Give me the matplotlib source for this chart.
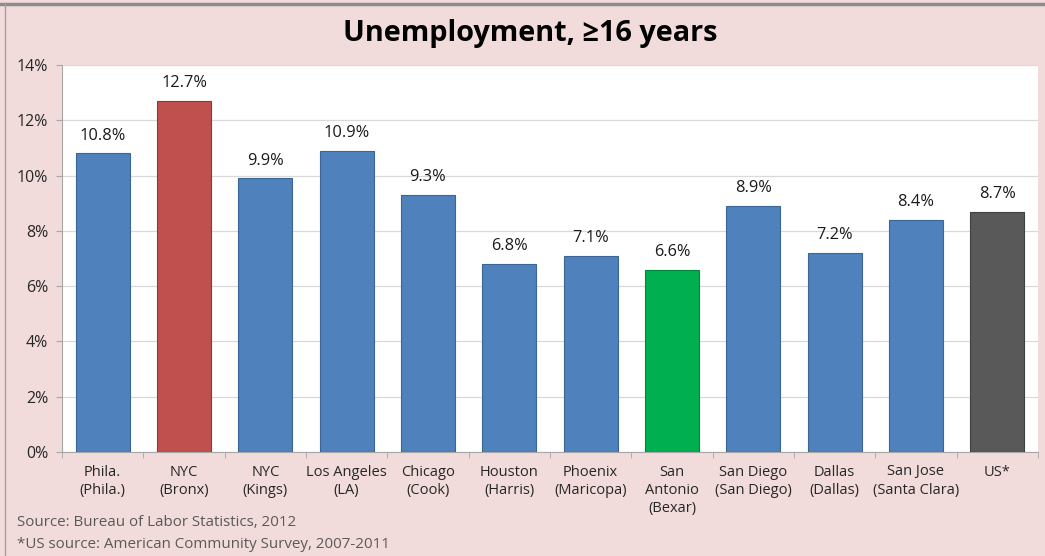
import numpy as np
import matplotlib.pyplot as plt
from matplotlib.ticker import FuncFormatter

plt.rcParams['font.family'] = ['Open Sans', 'DejaVu Sans']

places = ["Phila.\n(Phila.)", "NYC\n(Bronx)", "NYC\n(Kings)", "Los Angeles\n(LA)",
          "Chicago\n(Cook)", "Houston\n(Harris)", "Phoenix\n(Maricopa)",
          "San\nAntonio\n(Bexar)", "San Diego\n(San Diego)", "Dallas\n(Dallas)",
          "San Jose\n(Santa Clara)", "US*"]
rates = [10.8, 12.7, 9.9, 10.9, 9.3, 6.8, 7.1, 6.6, 8.9, 7.2, 8.4, 8.7]
bar_colors = ["#4F81BD", "#C0504D", "#4F81BD", "#4F81BD", "#4F81BD", "#4F81BD",
              "#4F81BD", "#00B050", "#4F81BD", "#4F81BD", "#4F81BD", "#595959"]
edge_colors = ["#3A6595", "#943634", "#3A6595", "#3A6595", "#3A6595", "#3A6595",
               "#3A6595", "#00873D", "#3A6595", "#3A6595", "#3A6595", "#404040"]
y_ticks = [0, 2, 4, 6, 8, 10, 12, 14]

W, H = 1045, 556
fig = plt.figure(figsize=(W / 100, H / 100), dpi=100, facecolor="#F2DCDB")
ax = fig.add_axes([62 / W, 1 - 452 / H, (1038 - 62) / W, (452 - 65) / H])
ax.set_facecolor("white")

x = np.arange(len(places))
bars = ax.bar(x, rates, width=0.66, color=bar_colors, edgecolor=edge_colors,
              linewidth=0.8, zorder=3)
for xi, v in zip(x, rates):
    ax.text(xi, v + 0.35, f"{v:.1f}%", ha="center", va="bottom",
            fontsize=11.8, color="#1a1a1a")

ax.set_xlim(-0.5, len(places) - 0.5)
ax.set_ylim(0, 14)
ax.set_yticks(y_ticks)
ax.yaxis.set_major_formatter(FuncFormatter(lambda v, p: f"{v:.0f}%"))
ax.grid(axis="y", color="#D9D9D9", lw=0.9, zorder=0)
ax.set_xticks(x)
ax.set_xticklabels(places, fontsize=10.5, color="#262626", linespacing=1.3)
ax.set_xticks(np.arange(len(places) + 1) - 0.5, minor=True)
ax.tick_params(axis="x", which="major", length=0, pad=9)
ax.tick_params(axis="x", which="minor", length=4, color="#A6A6A6")
ax.tick_params(axis="y", length=4, color="#A6A6A6", labelsize=11.5,
               labelcolor="#262626", pad=6)
for s in ["top", "right"]:
    ax.spines[s].set_visible(False)
for s in ["left", "bottom"]:
    ax.spines[s].set_color("#A6A6A6")

fig.text(0.507, 1 - 33 / H, "Unemployment, \u226516 years", ha="center",
         va="center", fontsize=20.8, fontweight="bold", color="black")
fig.text(17 / W, 1 - 522 / H, "Source: Bureau of Labor Statistics, 2012",
         fontsize=10.9, color="#595959", va="center")
fig.text(17 / W, 1 - 544 / H, "*US source: American Community Survey, 2007-2011",
         fontsize=10.9, color="#595959", va="center")

# frame lines along the top and left edges
fig.add_artist(plt.Line2D([0, 1], [1 - 4 / H, 1 - 4 / H], color="#8C8C8C", lw=2.5))
fig.add_artist(plt.Line2D([5 / W, 5 / W], [0, 1 - 4 / H], color="#A0A0A0", lw=1))

fig.savefig("out.png", dpi=100, facecolor=fig.get_facecolor())
